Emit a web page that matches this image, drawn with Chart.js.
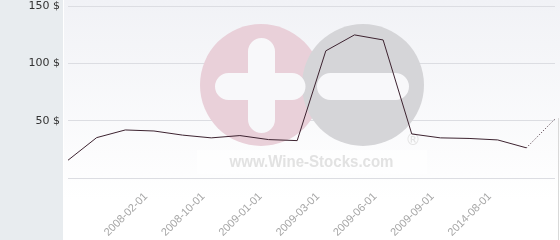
<!DOCTYPE html>
<html>
<head>
<meta charset="utf-8">
<script src="https://cdn.jsdelivr.net/npm/chart.js@4"></script>
<style>
  html, body { margin: 0; padding: 0; background: #fff; }
  #wrap { width: 560px; height: 240px; }
</style>
</head>
<body>
<div id="wrap"><canvas id="chart" width="560" height="240"></canvas></div>
<script>
// only every second date is printed on the reference
const labels = ['', '', '', '2008-02-01', '', '2008-10-01', '', '2009-01-01', '', '2009-03-01',
  '', '2009-06-01', '', '2009-09-01', '', '2014-08-01', '', ''];
const prices = [15.5, 35.2, 41.9, 41, 37.4, 35, 37, 33.5, 32.6, 110.9,
  124.8, 120.4, 38.4, 35, 34.5, 33.2, 26.3, 51.5];
const yTicks = [0, 50, 100, 150];

const backdrop = {
  id: 'backdrop',
  beforeDraw(chart) {
    const c = chart.ctx;
    c.save();
    const g = c.createLinearGradient(0, 0, 0, 200);
    g.addColorStop(0, '#f1f2f6');
    g.addColorStop(1, '#ffffff');
    c.fillStyle = g;
    c.fillRect(64, 0, 496, 240);
    c.fillStyle = '#e8ecef';
    c.fillRect(0, 0, 63, 240);
    c.fillStyle = '#d9d9d9';
    c.fillRect(558, 118, 1, 122);
    c.restore();
  }
};

// wine-stocks watermark sits under the line
const watermark = {
  id: 'watermark',
  beforeDatasetsDraw(chart) {
    const c = chart.ctx;
    c.save();
    c.fillStyle = 'rgba(255,255,255,0.6)';
    c.fillRect(197, 150, 230, 24);
    c.fillStyle = '#e9d0d9';
    c.beginPath(); c.arc(261, 85, 61, 0, Math.PI * 2); c.fill();
    c.fillStyle = '#d5d5d8';
    c.beginPath(); c.arc(363, 85, 61, 0, Math.PI * 2); c.fill();

    c.strokeStyle = '#f8f8fa';
    c.lineCap = 'round';
    c.lineWidth = 27;
    c.beginPath();
    c.moveTo(261.5, 51.5); c.lineTo(261.5, 119.5);
    c.moveTo(228.5, 86.5); c.lineTo(292, 86.5);
    c.moveTo(330.5, 86.5); c.lineTo(395.5, 86.5);
    c.stroke();

    c.fillStyle = '#e2e2e2';
    c.font = 'bold 16px "Liberation Sans"';
    c.textAlign = 'center';
    c.textBaseline = 'alphabetic';
    c.fillText('www.Wine-Stocks.com', 311.5, 167, 164);
    c.font = '15px "DejaVu Sans"';
    c.fillText('®', 413, 145);
    c.restore();
  }
};

new Chart(document.getElementById('chart'), {
  type: 'line',
  data: {
    labels,
    datasets: [{
      data: prices,
      borderColor: '#3d2330',
      borderWidth: 1,
      pointRadius: 0,
      tension: 0,
      segment: {
        borderDash: ctx => ctx.p1DataIndex === prices.length - 1 ? [1, 2] : undefined
      }
    }]
  },
  options: {
    responsive: false,
    animation: false,
    layout: { padding: { top: 6, right: 5, left: 0, bottom: 0 } },
    plugins: { legend: { display: false }, tooltip: { enabled: false } },
    scales: {
      x: {
        offset: false,
        grid: { display: false },
        border: { display: false },
        afterFit: s => { s.height = 62; s.paddingLeft = 0; s.paddingRight = 0; },
        ticks: {
          autoSkip: false,
          maxRotation: 45,
          minRotation: 45,
          padding: 4,
          labelOffset: -8,
          color: '#a6a6a6',
          font: { family: 'Liberation Sans', size: 11 }
        }
      },
      y: {
        min: 0,
        max: 150,
        afterFit: s => { s.width = 68; s.paddingTop = 0; s.paddingBottom = 0; },
        afterBuildTicks: s => { s.ticks = yTicks.map(v => ({ value: v })); },
        grid: { color: '#dcdde2', drawTicks: false },
        border: { display: false },
        ticks: {
          padding: 8,
          color: '#333',
          font: { family: 'DejaVu Sans', size: 11, lineHeight: 1 },
          callback: v => v === 0 ? '' : v + ' $'
        }
      }
    }
  },
  plugins: [backdrop, watermark]
});
</script>
</body>
</html>
